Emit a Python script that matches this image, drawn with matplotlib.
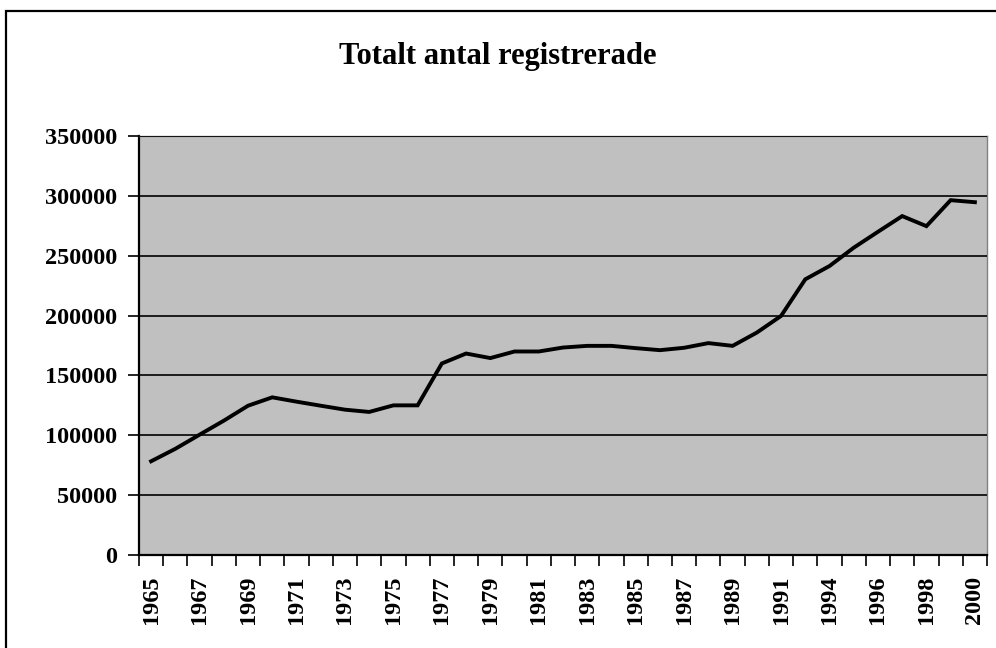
import numpy as np
import matplotlib
matplotlib.use("Agg")
import matplotlib.pyplot as plt
from matplotlib.patches import Rectangle

# data (1993 missing in the source)
years = list(range(1965, 1993)) + list(range(1994, 2001))
values = [78300, 88700, 100500, 112200, 124700, 131700, 128100, 124700,
          121400, 119500, 125000, 125000, 160000, 168300, 164500, 170000,
          170000, 173300, 174700, 174700, 172800, 171100, 173100, 177000,
          174700, 185800, 199700, 230300, 241400, 256700, 270000, 283100,
          274700, 296400, 294700]
yticks = [0, 50000, 100000, 150000, 200000, 250000, 300000, 350000]
title = "Totalt antal registrerade"

plt.rcParams["font.family"] = ["Liberation Serif", "DejaVu Serif"]
plt.rcParams["font.weight"] = "bold"

fig = plt.figure(figsize=(9.96, 6.48), dpi=100)
ax = fig.add_axes([139 / 996, 1 - 555 / 648, 848 / 996, 419 / 648])
ax.set_facecolor("#c0c0c0")

x = np.arange(len(years))
ax.plot(x, values, color="black", lw=2.8, solid_joinstyle="miter", zorder=3)

ax.set_xlim(-0.5, len(years) - 0.5)
ax.set_ylim(0, 350000)

# horizontal gridlines
ax.set_yticks(yticks)
ax.set_yticklabels([str(v) for v in yticks], fontsize=17.5, fontweight="bold")
ax.yaxis.grid(True, color="black", lw=1.2)
ax.set_axisbelow(False)
ax.tick_params(axis="y", direction="out", length=8, width=1.2, pad=8)

# category labels every second year, tick marks between categories
ax.set_xticks(x[::2])
ax.set_xticklabels([str(years[i]) for i in x[::2]], rotation=90,
                   fontsize=17.5, fontweight="bold")
ax.set_xticks(np.arange(-0.5, len(years)), minor=True)
ax.tick_params(axis="x", which="major", length=0, pad=15)
ax.tick_params(axis="x", which="minor", direction="out", length=8, width=1.2)

for side in ["left", "bottom"]:
    ax.spines[side].set_linewidth(1.6)
    ax.spines[side].set_color("black")
for side in ["top", "right"]:
    ax.spines[side].set_linewidth(1.0)
    ax.spines[side].set_color("#808080")

fig.text(0.5, 1 - 64 / 648, title, ha="center", va="baseline",
         fontsize=22, fontweight="bold")

# outer chart frame (right and bottom run off the picture)
fig.patches.append(Rectangle((6 / 996, -0.1), 1.2, 1.1 - 11 / 648,
                             transform=fig.transFigure, fill=False,
                             edgecolor="black", lw=1.6))

fig.savefig("out.png", dpi=100)
